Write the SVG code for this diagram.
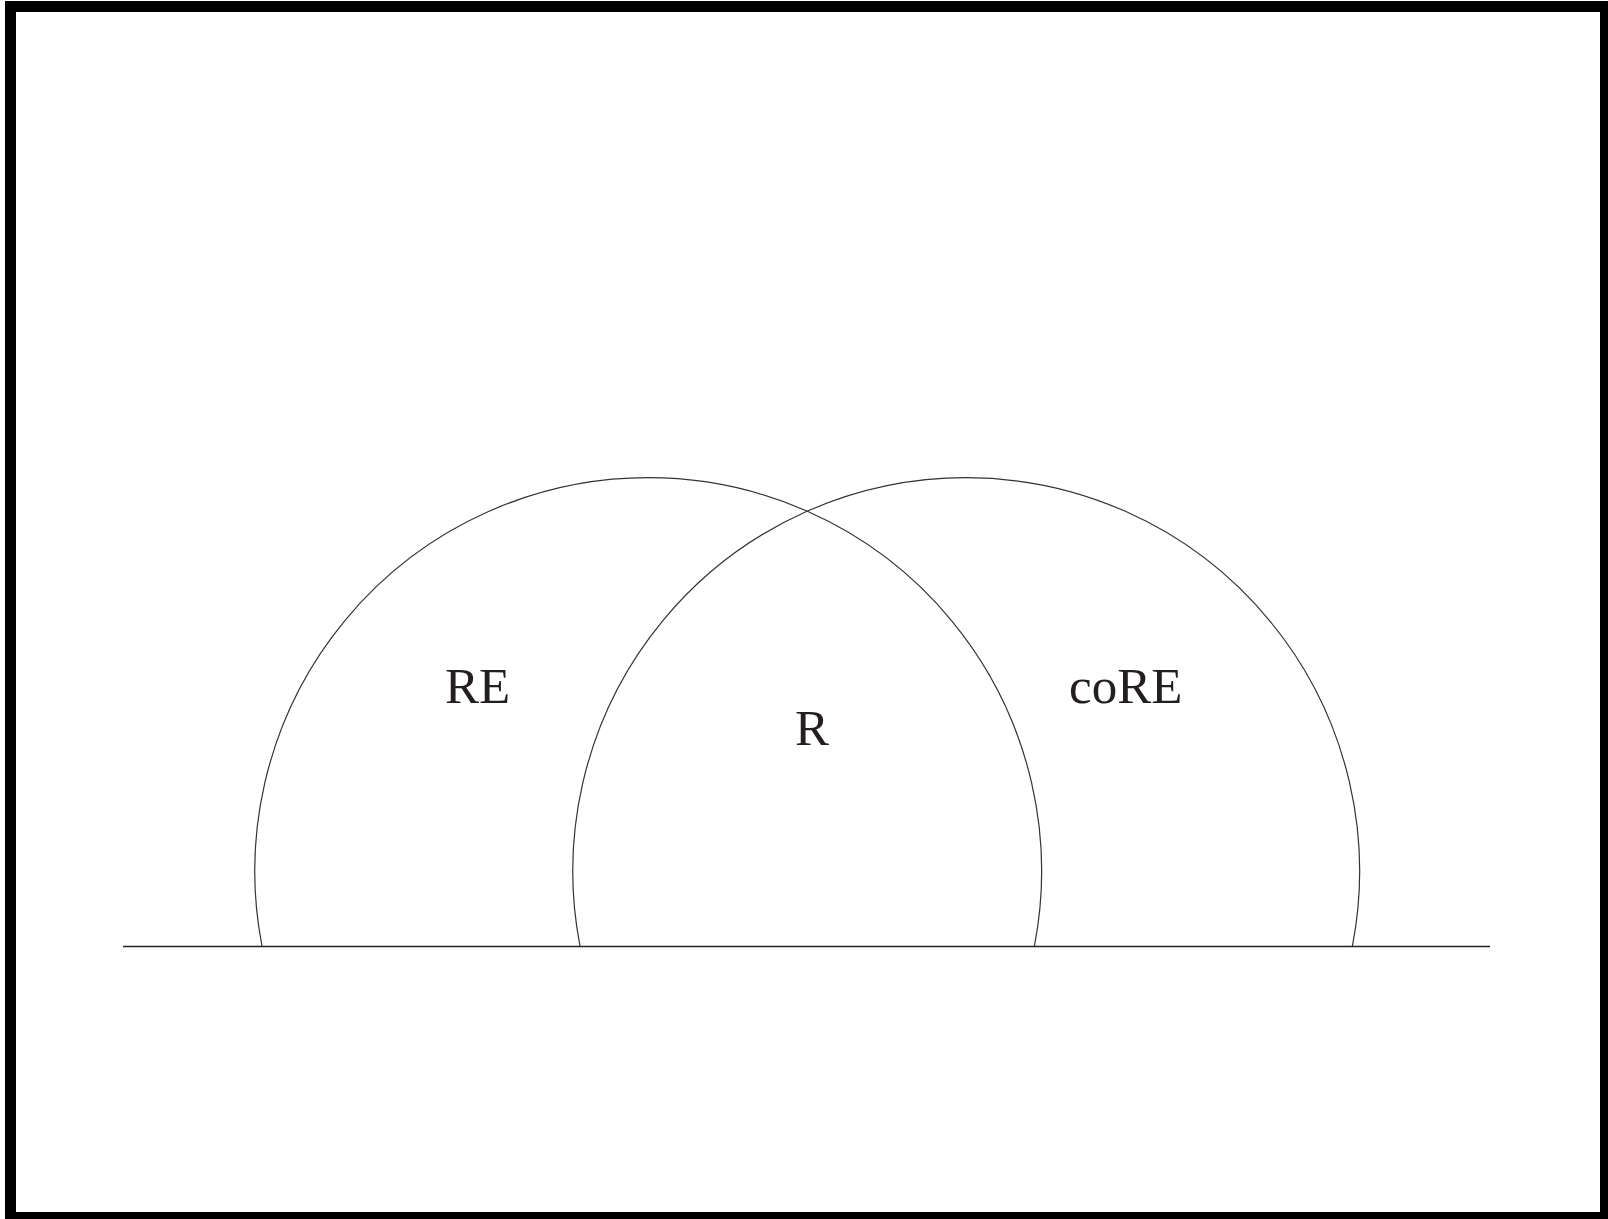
<svg xmlns="http://www.w3.org/2000/svg" width="1608" height="1219" viewBox="0 0 1608 1219">
<style>
.ln{fill:none;stroke:#333;stroke-width:1.2}
.base{fill:none;stroke:#222;stroke-width:1.3}
.lbl{font-family:"Liberation Serif","Times New Roman",serif;font-size:51px;fill:#231f20}
</style>
<rect x="0" y="0" width="1608" height="1219" fill="#fff"/>
<rect x="10.5" y="6.5" width="1595" height="1211" fill="none" stroke="#000" stroke-width="11"/>
<g id="connectors">
<line class="base" x1="123" y1="946.5" x2="1490" y2="946.5"/>
</g>
<g id="RE">
<path class="ln" d="M 262 946 A 393.4 393.4 0 1 1 1034.4 946"/>
<text class="lbl" x="445" y="703">RE</text>
</g>
<g id="coRE">
<path class="ln" d="M 580 946 A 393.4 393.4 0 1 1 1352.4 946"/>
<text class="lbl" x="1069" y="703">coRE</text>
</g>
<g id="R">
<text class="lbl" x="795" y="745">R</text>
</g>
</svg>
